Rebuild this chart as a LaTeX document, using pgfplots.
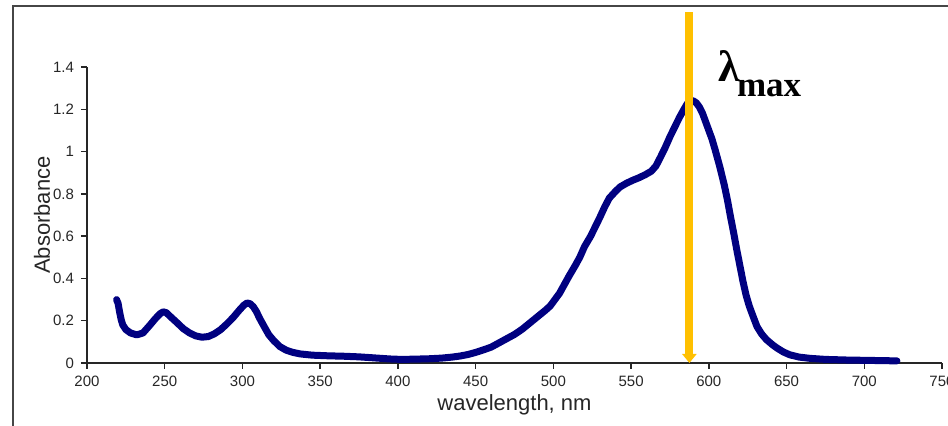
\documentclass[border=0pt]{standalone}
\usepackage{fontspec}
\setmainfont{Liberation Sans}
\newfontfamily\lamfont{Liberation Serif}
\usepackage{pgfplots}
\pgfplotsset{compat=1.18}
\usetikzlibrary{arrows.meta}
\definecolor{specnavy}{RGB}{0,0,128}
\definecolor{lamorange}{RGB}{255,192,0}
\definecolor{framegray}{RGB}{70,70,70}

\pgfplotstableread{
wl   abs
219  0.300
220  0.282
221  0.240
222  0.205
223  0.180
225  0.158
228  0.142
232  0.133
236  0.142
240  0.175
244  0.210
247  0.233
249  0.242
251  0.238
254  0.217
258  0.190
262  0.162
266  0.142
270  0.128
274  0.122
278  0.125
282  0.138
286  0.158
290  0.185
294  0.215
298  0.250
301  0.274
303  0.284
305  0.280
307  0.266
309  0.243
311  0.212
314  0.172
317  0.133
320  0.107
324  0.078
328  0.061
332  0.051
337  0.043
345  0.037
355  0.034
365  0.032
375  0.029
385  0.024
395  0.019
402  0.017
410  0.018
420  0.020
428  0.023
435  0.028
440  0.033
445  0.040
450  0.050
455  0.062
460  0.075
465  0.095
470  0.115
475  0.135
480  0.160
485  0.190
490  0.220
495  0.250
498  0.270
501  0.300
504  0.330
507  0.370
510  0.410
514  0.460
517  0.500
520  0.550
524  0.600
527  0.645
530  0.690
533  0.738
536  0.780
540  0.812
543  0.833
547  0.850
551  0.864
555  0.876
559  0.890
563  0.907
566  0.932
569  0.975
572  1.020
575  1.070
578  1.115
581  1.160
584  1.200
586  1.225
588  1.240
590  1.240
592  1.230
594  1.210
596  1.180
599  1.120
602  1.060
604  1.010
607  0.930
610  0.840
612  0.770
614  0.690
616  0.615
618  0.535
620  0.460
622  0.385
624  0.320
626  0.270
628  0.230
631  0.172
634  0.137
637  0.111
641  0.086
644  0.070
648  0.052
652  0.039
658  0.028
665  0.022
675  0.017
689  0.014
705  0.012
721  0.010
}\spectrum

\begin{document}
\begin{tikzpicture}
\path[use as bounding box] (-43.5pt,-31.5pt) rectangle (430.5pt,181.5pt);
\draw[framegray, line width=1pt] (-37pt,-40pt) -- (-37pt,178.5pt) -- (440pt,178.5pt);
\begin{axis}[
  at={(0,0)}, anchor=south west,
  scale only axis, width=427.5pt, height=148pt,
  xmin=200, xmax=750, ymin=0, ymax=1.4,
  axis x line*=bottom, axis y line*=left,
  axis line style={line width=0.75pt, black!85},
  xtick={200,250,300,350,400,450,500,550,600,650,700,750},
  ytick={0,0.2,0.4,0.6,0.8,1,1.2,1.4},
  tick align=outside, major tick length=3pt,
  tick style={line width=0.75pt, black!85},
  tick label style={font=\fontsize{7.5}{9}\selectfont, black!85},
  /pgf/number format/assume math mode=true,
  xlabel={wavelength, nm}, ylabel={Absorbance},
  label style={font=\fontsize{11}{13}\selectfont, black!85},
  xlabel style={at={(axis description cs:0.5,-0.142)}, anchor=center},
  ylabel style={at={(axis description cs:-0.0526,0.5)}, anchor=center},
  clip=false,
]
\addplot[specnavy, line width=3.5pt, line join=round, line cap=round] table[x=wl, y=abs] {\spectrum};
\draw[lamorange, line width=4pt, -{Triangle[width=7pt,length=4.5pt]}] (axis cs:587.5,1.66) -- (axis cs:587.5,0);
\end{axis}
\node[anchor=base west, inner sep=0pt] at (315.5pt,140.5pt)
  {\lamfont\bfseries\fontsize{22}{26}\selectfont λ\kern-1.5pt\raisebox{-7.5pt}{\fontsize{17.5}{21}\selectfont max}};
\end{tikzpicture}
\end{document}
